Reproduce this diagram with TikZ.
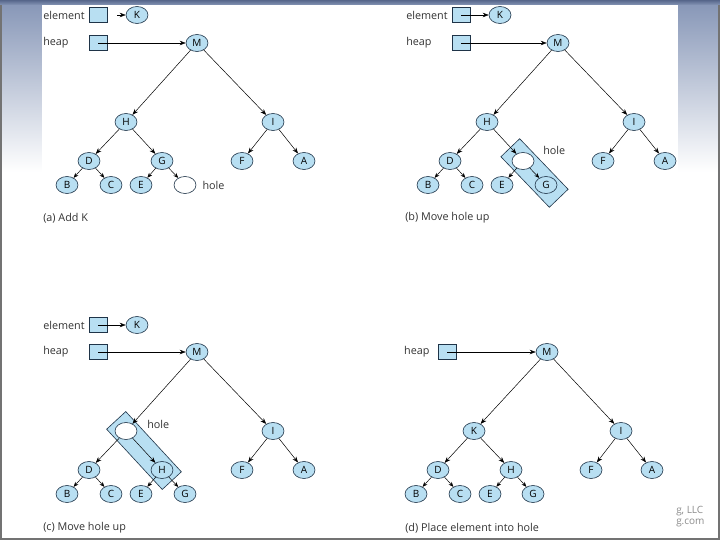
\documentclass[tikz,border=0pt]{standalone}
\usepackage{fontspec}
\setmainfont{Open Sans}
\usepackage{tikz}
\usetikzlibrary{calc}
\usetikzlibrary{bayesnet}
\usetikzlibrary{arrows.meta}
\usetikzlibrary{positioning}
\usepackage{xcolor}

\definecolor{nodeblue}{HTML}{B8DFF2}
\definecolor{inkline}{HTML}{1F3448}
\definecolor{slatetop}{HTML}{56668A}
\definecolor{slatemid}{HTML}{8595B6}

\tikzset{
  key/.style={ellipse, draw=inkline, fill=nodeblue, line width=0.6pt, minimum width=22pt, minimum height=17pt, inner sep=0pt, font=\fontsize{10}{10}\selectfont},
  holenode/.style={key, fill=white},
  ptr/.style={rectangle, draw=inkline, fill=nodeblue, line width=0.6pt, minimum width=18pt, minimum height=15pt, inner sep=0pt},
  hilite/.style={rectangle, draw=inkline, fill=nodeblue, line width=0.6pt, minimum height=26pt, inner sep=0pt},
  lbl/.style={font=\fontsize{10.8}{11}\selectfont, text=black!80, inner sep=0pt},
  >={Stealth[length=6pt,width=4.5pt]},
}

\begin{document}
\begin{tikzpicture}[x=1pt, y=-1pt, line width=0.5pt]

    % Slide background
    \useasboundingbox (0,0) rectangle (720,540);
    \fill[white] (0,0) rectangle (720,540);
    \shade[top color=slatemid, bottom color=white] (0,0) rectangle (720,172);
    \shade[top color=slatetop, bottom color=slatemid] (0,0) rectangle (720,5);
    \fill[white] (42,5) rectangle (678,172);
    \draw[black!55, line width=1.5pt] (1,5) -- (1,539) -- (719,539) -- (719,5);

    % (a) Add K
    \begin{scope}[shift={(197,43)}]
    \node[lbl, anchor=west] (aelemtxt) at (-154,-28) {element};
    \node[lbl, anchor=west] (aheaptxt) at (-154,0) {heap};
    \node[ptr] (aelem) at (-99,-28) {};
    \node[ptr] (aheap) at (-99,0) {};
    \coordinate (astub) at (-80,-28);
    \node[key] (ak) at (-60,-28) {K};
    \node[key] (am) at (0,0) {M};
    \node[key] (ah) at (-71,79) {H};
    \node[key] (ai) at (76,79) {I};
    \node[key] (ad) at (-108,118) {D};
    \node[key] (ag) at (-35,118) {G};
    \node[key] (af) at (45,118) {F};
    \node[key] (aa) at (107,118) {A};
    \node[key] (ab) at (-130,142) {B};
    \node[key] (ac) at (-86,142) {C};
    \node[key] (ae) at (-56,142) {E};
    \node[holenode] (ahole) at (-12,142) {};
    \node[lbl, right=6pt of ahole] (aholetxt) {hole};
    \node[lbl, anchor=west] (acap) at (-154,175) {(a) Add K};
    \end{scope}

    % (b) Move hole up
    \begin{scope}[shift={(558,43)}]
    \path (-35,118) -- node[hilite, sloped, minimum width=70pt] (bbox) {} (-12,142);
    \node[lbl, anchor=west] (belemtxt) at (-152,-28) {element};
    \node[lbl, anchor=west] (bheaptxt) at (-152,0) {heap};
    \node[ptr] (belem) at (-97,-28) {};
    \node[ptr] (bheap) at (-97,0) {};
    \node[key] (bk) at (-58,-28) {K};
    \node[key] (bm) at (0,0) {M};
    \node[key] (bh) at (-71,79) {H};
    \node[key] (bi) at (76,79) {I};
    \node[key] (bd) at (-108,118) {D};
    \node[holenode] (bhole) at (-35,118) {};
    \node[key] (bf) at (45,118) {F};
    \node[key] (ba) at (107,118) {A};
    \node[key] (bb) at (-130,142) {B};
    \node[key] (bc) at (-86,142) {C};
    \node[key] (be) at (-56,142) {E};
    \node[key] (bg) at (-12,142) {G};
    \node[lbl, anchor=west] (bholetxt) at (-15,107) {hole};
    \node[lbl, anchor=west] (bcap) at (-153,175) {(b) Move hole up};
    \end{scope}

    % (c) Move hole up
    \begin{scope}[shift={(197,352)}]
    \path (-71,79) -- node[hilite, sloped, minimum width=82pt] (cbox) {} (-35,118);
    \node[lbl, anchor=west] (celemtxt) at (-154,-27) {element};
    \node[lbl, anchor=west] (cheaptxt) at (-154,0) {heap};
    \node[ptr] (celem) at (-99,-27) {};
    \node[ptr] (cheap) at (-99,0) {};
    \node[key] (ck) at (-60,-27) {K};
    \node[key] (cm) at (0,0) {M};
    \node[holenode] (chole) at (-71,79) {};
    \node[key] (ci) at (76,79) {I};
    \node[key] (cd) at (-108,118) {D};
    \node[key] (ch) at (-35,118) {H};
    \node[key] (cf) at (45,118) {F};
    \node[key] (ca) at (107,118) {A};
    \node[key] (cb) at (-130,142) {B};
    \node[key] (cc) at (-86,142) {C};
    \node[key] (ce) at (-56,142) {E};
    \node[key] (cg) at (-12,142) {G};
    \node[lbl, anchor=west] (choletxt) at (-50,72) {hole};
    \node[lbl, anchor=west] (ccap) at (-154,176) {(c) Move hole up};
    \end{scope}

    % (d) Place element into hole
    \begin{scope}[shift={(547,352)}]
    \node[ptr] (dheap) at (-100,0) {};
    \node[lbl, left=8pt of dheap] (dheaptxt) {heap};
    \node[key] (dm) at (0,0) {M};
    \node[key] (dk) at (-73,79) {K};
    \node[key] (di) at (74,79) {I};
    \node[key] (dd) at (-109,118) {D};
    \node[key] (dh) at (-36,118) {H};
    \node[key] (df) at (44,118) {F};
    \node[key] (da) at (105,118) {A};
    \node[key] (db) at (-131,142) {B};
    \node[key] (dc) at (-87,142) {C};
    \node[key] (de) at (-57,142) {E};
    \node[key] (dg) at (-14,142) {G};
    \node[lbl, anchor=west] (dcap) at (-142,176) {(d) Place element into hole};
    \end{scope}

    \node[lbl, anchor=west, text=black!45, font=\fontsize{10}{10}\selectfont] (wm1) at (676,511) {g, LLC};
    \node[lbl, anchor=west, text=black!45, font=\fontsize{10}{10}\selectfont] (wm2) at (676,523) {g.com};

    % Connect the nodes
    \edge[>={Stealth[length=6pt,width=4.5pt]}] {am} {ah, ai};
    \edge[>={Stealth[length=6pt,width=4.5pt]}] {ah} {ad, ag};
    \edge[>={Stealth[length=6pt,width=4.5pt]}] {ai} {af, aa};
    \edge[>={Stealth[length=5pt,width=4pt]}] {ad} {ab, ac};
    \edge[>={Stealth[length=5pt,width=4pt]}] {ag} {ae, ahole};
    \edge[>={Stealth[length=6pt,width=4.5pt]}] {astub} {ak};
    \draw[->] (aheap.center) -- (am);

    \edge[>={Stealth[length=6pt,width=4.5pt]}] {bm} {bh, bi};
    \edge[>={Stealth[length=6pt,width=4.5pt]}] {bh} {bd, bhole};
    \edge[>={Stealth[length=6pt,width=4.5pt]}] {bi} {bf, ba};
    \edge[>={Stealth[length=5pt,width=4pt]}] {bd} {bb, bc};
    \edge[>={Stealth[length=5pt,width=4pt]}] {bhole} {be, bg};
    \draw[->] (belem.center) -- (bk);
    \draw[->] (bheap.center) -- (bm);

    \edge[>={Stealth[length=6pt,width=4.5pt]}] {cm} {chole, ci};
    \edge[>={Stealth[length=6pt,width=4.5pt]}] {chole} {cd, ch};
    \edge[>={Stealth[length=6pt,width=4.5pt]}] {ci} {cf, ca};
    \edge[>={Stealth[length=5pt,width=4pt]}] {cd} {cb, cc};
    \edge[>={Stealth[length=5pt,width=4pt]}] {ch} {ce, cg};
    \draw[->] (celem.center) -- (ck);
    \draw[->] (cheap.center) -- (cm);

    \edge[>={Stealth[length=6pt,width=4.5pt]}] {dm} {dk, di};
    \edge[>={Stealth[length=6pt,width=4.5pt]}] {dk} {dd, dh};
    \edge[>={Stealth[length=6pt,width=4.5pt]}] {di} {df, da};
    \edge[>={Stealth[length=5pt,width=4pt]}] {dd} {db, dc};
    \edge[>={Stealth[length=5pt,width=4pt]}] {dh} {de, dg};
    \draw[->] (dheap.center) -- (dm);

  \end{tikzpicture}
\end{document}
